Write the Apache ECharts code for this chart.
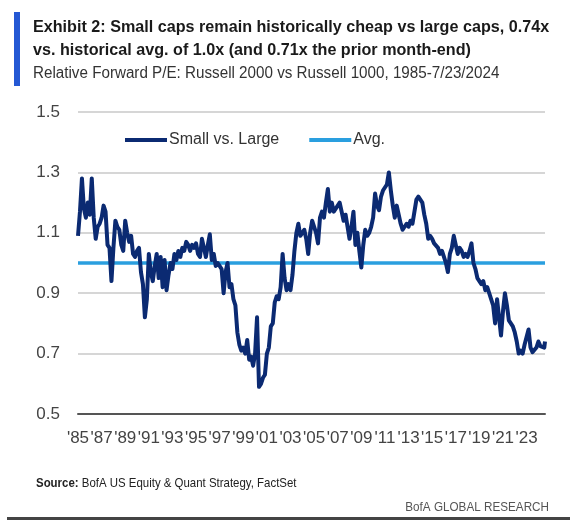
<!DOCTYPE html>
<html>
<head>
<meta charset="utf-8">
<script src="https://cdn.jsdelivr.net/npm/echarts@6/dist/echarts.min.js"></script>
<style>
html,body{margin:0;padding:0;background:#fff;}
#chart{width:587px;height:523px;}
</style>
</head>
<body>
<div id="chart"></div>
<script>
// ---- Data ----
const startYear = 1985;
const stepsPerYear = 6; // bi-monthly readings
const smallVsLarge = [
  1.09, 1.17, 1.28, 1.18, 1.15, 1.20,   // 1985
  1.16, 1.28, 1.15, 1.08, 1.12, 1.13,   // 1986
  1.15, 1.19, 1.17, 1.06, 1.05, 0.94,   // 1987
  1.05, 1.14, 1.12, 1.11, 1.06, 1.04,   // 1988
  1.14, 1.10, 1.07, 1.09, 1.03, 1.02,   // 1989
  1.04, 1.05, 0.97, 0.93, 0.82, 0.88,   // 1990
  1.03, 0.97, 0.94, 0.99, 1.03, 0.95,   // 1991
  1.02, 0.92, 1.01, 0.91, 0.96, 1.00,   // 1992
  0.98, 1.03, 1.01, 1.04, 1.02, 1.05,   // 1993
  1.04, 1.07, 1.06, 1.04, 1.06, 1.05,   // 1994
  1.065, 1.03, 1.02, 1.08, 1.05, 1.02,  // 1995
  1.06, 1.095, 1.01, 1.03, 0.99, 1.00,  // 1996
  0.99, 0.98, 0.90, 0.97, 1.00, 0.92,   // 1997
  0.93, 0.88, 0.86, 0.77, 0.73, 0.71,   // 1998
  0.72, 0.70, 0.745, 0.68, 0.69, 0.66,  // 1999
  0.70, 0.82, 0.59, 0.60, 0.62, 0.63,   // 2000
  0.70, 0.72, 0.79, 0.80, 0.87, 0.89,   // 2001
  0.88, 0.92, 1.03, 0.95, 0.91, 0.93,   // 2002
  0.91, 0.96, 1.04, 1.10, 1.13, 1.09,   // 2003
  1.09, 1.11, 1.08, 1.03, 1.10, 1.14,   // 2004
  1.14, 1.10, 1.065, 1.15, 1.17, 1.15,  // 2005
  1.20, 1.245, 1.17, 1.20, 1.17, 1.18,  // 2006
  1.19, 1.20, 1.17, 1.14, 1.16, 1.12,   // 2007
  1.08, 1.12, 1.17, 1.06, 1.10, 1.04,   // 2008
  0.985, 1.06, 1.11, 1.09, 1.10, 1.12,  // 2009
  1.15, 1.23, 1.19, 1.175, 1.22, 1.24,  // 2010
  1.25, 1.26, 1.30, 1.24, 1.19, 1.15,   // 2011
  1.19, 1.16, 1.13, 1.11, 1.12, 1.13,   // 2012
  1.12, 1.14, 1.13, 1.17, 1.21, 1.22,   // 2013
  1.21, 1.20, 1.16, 1.13, 1.08, 1.09,   // 2014
  1.08, 1.065, 1.07, 1.05, 1.03, 1.04,  // 2015
  1.02, 1.00, 0.97, 1.03, 1.05, 1.09,   // 2016
  1.06, 1.03, 1.05, 1.04, 1.02, 1.03,   // 2017
  1.02, 1.04, 1.065, 1.00, 0.98, 0.95,  // 2018
  0.95, 0.93, 0.94, 0.91, 0.92, 0.90,   // 2019
  0.90, 0.86, 0.80, 0.88, 0.82, 0.76,   // 2020
  0.84, 0.90, 0.86, 0.81, 0.80, 0.79,   // 2021
  0.77, 0.74, 0.70, 0.71, 0.70, 0.73,   // 2022
  0.73, 0.78, 0.72, 0.705, 0.71, 0.72,  // 2023
  0.74, 0.725, 0.73, 0.72               // 2024
];
const lastDate = 2024.56;   // 7/23/2024
const lastValue = 0.74;
const avgValue = 1.0;
const yTicks = [0.5, 0.7, 0.9, 1.1, 1.3, 1.5];
const seriesNames = ['Small vs. Large', 'Avg.'];

// ---- Build ----
const lineData = smallVsLarge.map((v, i) => [i / stepsPerYear, v]);
lineData.push([lastDate - startYear, lastValue]);
const xMax = lastDate - startYear;
const avgData = [[0, avgValue], [xMax, avgValue]];

const FONT = '"Liberation Sans", Arial, sans-serif';
const NAVY = '#0b2a72', LIGHT = '#2a9fdf';
const chart = echarts.init(document.getElementById('chart'), null, {renderer: 'canvas'});
chart.setOption({
  backgroundColor: '#ffffff',
  animation: false,
  textStyle: {fontFamily: FONT},
  grid: {left: 78, right: 42, top: 112, bottom: 109, containLabel: false},
  legend: {
    left: 120, top: 127, icon: 'rect',
    itemWidth: 42, itemHeight: 4, itemGap: 30,
    textStyle: {fontFamily: FONT, fontSize: 16, color: '#333', padding: [0, 0, 0, -3]},
    data: seriesNames
  },
  xAxis: {
    type: 'value', min: 0, max: xMax, interval: 2,
    axisLine: {show: true, lineStyle: {color: '#555', width: 2}},
    axisTick: {show: false},
    splitLine: {show: false},
    axisLabel: {
      showMaxLabel: false,
      margin: 16, fontSize: 17, color: '#444', fontFamily: FONT,
      formatter: v => Number.isInteger(v) ? "'" + String((startYear + v) % 100).padStart(2, '0') : ''
    }
  },
  yAxis: {
    type: 'value', min: yTicks[0], max: yTicks[yTicks.length - 1], interval: 0.2,
    axisLine: {show: false}, axisTick: {show: false},
    splitLine: {lineStyle: {color: '#c9c9c9', width: 1.5}},
    axisLabel: {margin: 18, fontSize: 17, color: '#444', fontFamily: FONT, formatter: v => v.toFixed(1)}
  },
  series: [
    {
      name: seriesNames[0], type: 'line', data: lineData, symbol: 'none', z: 3,
      lineStyle: {color: NAVY, width: 4, join: 'round'}, itemStyle: {color: NAVY}
    },
    {
      name: seriesNames[1], type: 'line', data: avgData, symbol: 'none', z: 2,
      lineStyle: {color: LIGHT, width: 3.5}, itemStyle: {color: LIGHT}
    }
  ],
  graphic: [
    {type: 'rect', left: 14, top: 12, shape: {width: 6, height: 74}, style: {fill: '#2458d4'}},
    {type: 'text', x: 33, y: 19, scaleX: 0.95, style: {text: 'Exhibit 2: Small caps remain historically cheap vs large caps, 0.74x', font: 'bold 17px ' + FONT, fill: '#1a1a1a'}},
    {type: 'text', x: 33, y: 42, scaleX: 0.95, style: {text: 'vs. historical avg. of 1.0x (and 0.71x the prior month-end)', font: 'bold 17px ' + FONT, fill: '#1a1a1a'}},
    {type: 'text', x: 33, y: 66, scaleX: 0.95, style: {text: 'Relative Forward P/E: Russell 2000 vs Russell 1000, 1985-7/23/2024', font: '16px ' + FONT, fill: '#333'}},
    {type: 'text', x: 36, y: 477, scaleX: 0.88, style: {
      text: '{b|Source:} BofA US Equity & Quant Strategy, FactSet',
      font: '13px ' + FONT, fill: '#222',
      rich: {b: {fontWeight: 'bold', fontSize: 13, fontFamily: FONT, fill: '#222'}}
    }},
    {type: 'text', x: 549, y: 501, scaleX: 0.9, style: {text: 'BofA GLOBAL RESEARCH', font: '13px ' + FONT, fill: '#555', align: 'right'}},
    {type: 'rect', left: 7, top: 517, shape: {width: 563, height: 3}, style: {fill: '#444'}}
  ]
});
</script>
</body>
</html>
